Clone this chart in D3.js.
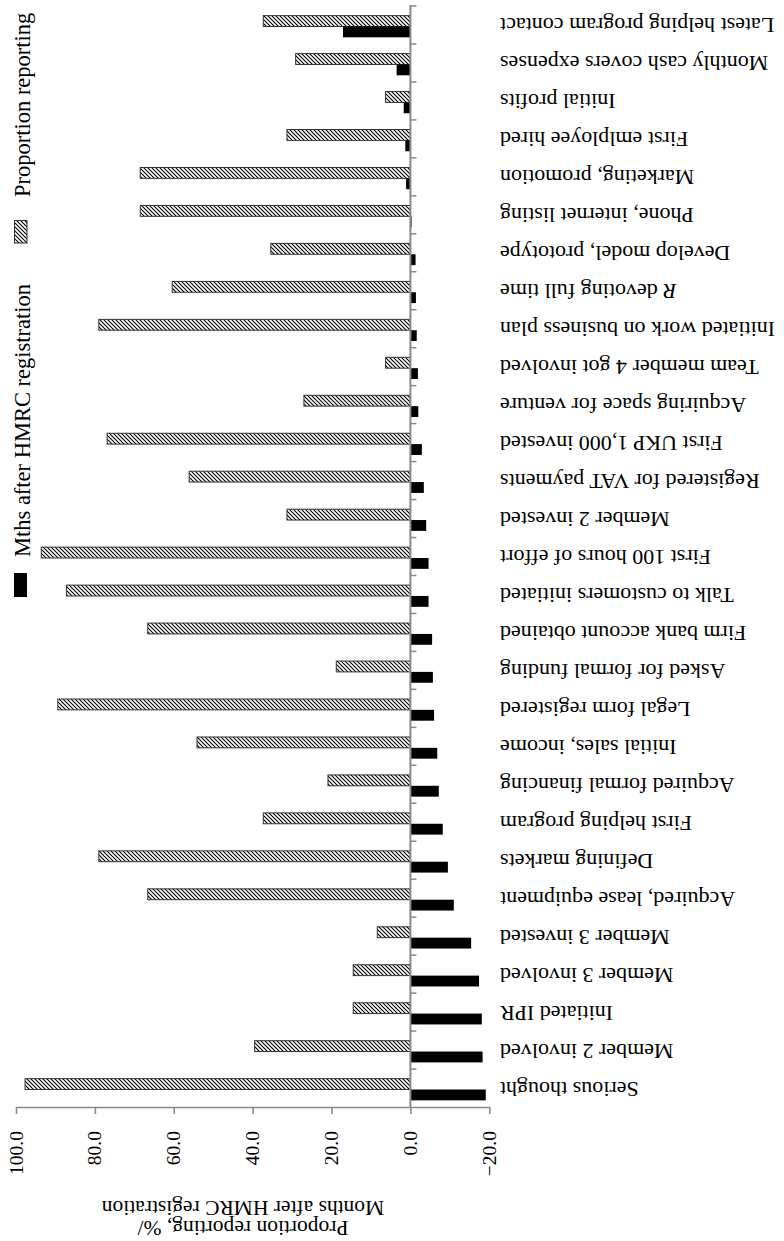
<!DOCTYPE html>
<html>
<head>
<meta charset="utf-8">
<script src="https://cdn.jsdelivr.net/npm/d3@7"></script>
<style>
  html, body { margin: 0; padding: 0; background: #fff; }
  svg { display: block; font-family: "Liberation Serif", "Times New Roman", serif; }
</style>
</head>
<body>
<svg id="chart" width="784" height="1241"></svg>
<script>
// ---- data (top to bottom as displayed) ----
const categories = [
  "Latest helping program contact",
  "Monthly cash covers expenses",
  "Initial profits",
  "First emlployee hired",
  "Marketing, promotion",
  "Phone, internet listing",
  "Develop model, prototype",
  "R devoting full time",
  "Initiated work on business plan",
  "Team member 4 got involved",
  "Acquiring space for venture",
  "First UKP 1,000 invested",
  "Registered for VAT payments",
  "Member 2 invested",
  "First 100 hours of effort",
  "Talk to customers initiated",
  "Firm bank account obtained",
  "Asked for formal funding",
  "Legal form registered",
  "Initial sales, income",
  "Acquired formal financing",
  "First helping program",
  "Defining markets",
  "Acquired, lease equipment",
  "Member 3 invested",
  "Member 3 involved",
  "Initiated IPR",
  "Member 2 involved",
  "Serious thought"
];
const proportionReporting = [37.3, 29.1, 6.3, 31.3, 68.5, 68.5, 35.4, 60.4, 79.0, 6.3, 27.0, 76.9, 56.1, 31.3, 93.6, 87.2, 66.6, 18.8, 89.4, 54.1, 20.9, 37.3, 79.0, 66.6, 8.4, 14.5, 14.5, 39.5, 97.7];
const monthsAfterRegistration = [17.1, 3.5, 1.7, 1.3, 1.1, -0.3, -1.3, -1.4, -1.6, -1.9, -2.0, -2.9, -3.4, -4.0, -4.6, -4.6, -5.5, -5.7, -6.0, -6.8, -7.2, -8.2, -9.5, -11.0, -15.4, -17.4, -18.1, -18.3, -19.1];
const seriesNames = ["Proportion reporting", "Mths after HMRC registration"];
const tickValues = [100, 80, 60, 40, 20, 0, -20];
const tickLabels = ["100.0", "80.0", "60.0", "40.0", "20.0", "0.0", "\u221220.0"];
const titleLines = ["Proportion reporting, %/", "Months after HMRC registration"];

// ---- drawing ----
const svg = d3.select("#chart");
const axisColor = "#8a8a8a";

const defs = svg.append("defs");
const pat = defs.append("pattern")
  .attr("id", "hatch").attr("patternUnits", "userSpaceOnUse")
  .attr("width", 4).attr("height", 4);
pat.append("rect").attr("width", 4).attr("height", 4).attr("fill", "#fff");
pat.append("path").attr("d", "M-1,-1 L5,5 M-1,3 L1,5 M3,-1 L5,1")
  .attr("stroke", "#000").attr("stroke-width", 1.1);

const x = d3.scaleLinear().domain([-20, 100]).range([489.3, 16]);
const y = d3.scaleBand().domain(categories).range([6, 1107]);
const sub = d3.scaleBand().domain(["prop", "months"]).range([0, y.bandwidth()]).paddingOuter(0.75);

const rows = categories.map((c, i) => ({ c, p: proportionReporting[i], m: monthsAfterRegistration[i] }));

// hatched bars (proportion)
svg.append("g").selectAll("rect").data(rows).join("rect")
  .attr("x", d => Math.min(x(d.p), x(0)))
  .attr("width", d => Math.abs(x(d.p) - x(0)))
  .attr("y", d => y(d.c) + sub("prop") + 1.5)
  .attr("height", sub.bandwidth())
  .attr("fill", "url(#hatch)")
  .attr("stroke", "#333").attr("stroke-width", 1);

// black bars (months)
svg.append("g").selectAll("rect").data(rows).join("rect")
  .attr("x", d => Math.min(x(d.m), x(0)))
  .attr("width", d => Math.max(0.8, Math.abs(x(d.m) - x(0))))
  .attr("y", d => y(d.c) + sub("months") + 1.5)
  .attr("height", sub.bandwidth())
  .attr("fill", "#000");

// value axis (bottom)
const gx = svg.append("g").attr("transform", "translate(0,1107)");
gx.call(d3.axisBottom(x).tickValues(tickValues).tickSize(7).tickSizeOuter(0).tickFormat(""));
gx.select(".domain").attr("stroke", axisColor).attr("stroke-width", 1.6);
gx.selectAll(".tick line").attr("stroke", axisColor).attr("stroke-width", 1.6);

svg.append("g").selectAll("text").data(tickValues).join("text")
  .attr("transform", d => `translate(${x(d)},1131) rotate(-90)`)
  .attr("text-anchor", "end")
  .attr("dominant-baseline", "central")
  .attr("font-size", 19.5)
  .attr("fill", "#000")
  .text((d, i) => tickLabels[i]);

// category axis (vertical, at zero)
const boundaries = categories.map(c => y(c));
svg.append("line")
  .attr("x1", x(0)).attr("x2", x(0))
  .attr("y1", y.range()[0] - 1).attr("y2", y.range()[1])
  .attr("stroke", axisColor).attr("stroke-width", 2);
svg.append("g").selectAll("line").data(boundaries).join("line")
  .attr("x1", x(0)).attr("x2", x(0) + 6)
  .attr("y1", d => d).attr("y2", d => d)
  .attr("stroke", axisColor).attr("stroke-width", 1.5);

// category labels (upside down)
const labels = svg.append("g").selectAll("text").data(categories).join("text")
  .attr("transform", d => `translate(500,${y(d) + y.bandwidth() / 2 + 1}) rotate(180)`)
  .attr("text-anchor", "end")
  .attr("dominant-baseline", "central")
  .attr("font-size", 22)
  .attr("fill", "#000");
labels.each(function(d) {
  const t = d3.select(this);
  if (d.startsWith("R ")) {
    t.append("tspan").attr("font-style", "italic").text("R");
    t.append("tspan").text(d.slice(1));
  } else {
    t.text(d);
  }
});

// axis title (upside down, two lines)
svg.append("text")
  .attr("transform", "translate(243,1221) rotate(180)")
  .attr("text-anchor", "middle").attr("font-size", 21.5).text(titleLines[0]);
svg.append("text")
  .attr("transform", "translate(243,1201) rotate(180)")
  .attr("text-anchor", "middle").attr("font-size", 21.5).text(titleLines[1]);

// legend (vertical)
const lg = svg.append("g");
lg.append("rect").attr("x", 14).attr("y", 573).attr("width", 13).attr("height", 24).attr("fill", "#000");
lg.append("text")
  .attr("transform", "translate(22,557) rotate(-90)")
  .attr("dominant-baseline", "central").attr("font-size", 22.5).text(seriesNames[1]);
lg.append("rect").attr("x", 14.5).attr("y", 220.5).attr("width", 12.5).attr("height", 22.5)
  .attr("fill", "url(#hatch)").attr("stroke", "#333").attr("stroke-width", 1);
lg.append("text")
  .attr("transform", "translate(22,197) rotate(-90)")
  .attr("dominant-baseline", "central").attr("font-size", 22.5).text(seriesNames[0]);
</script>
</body>
</html>
